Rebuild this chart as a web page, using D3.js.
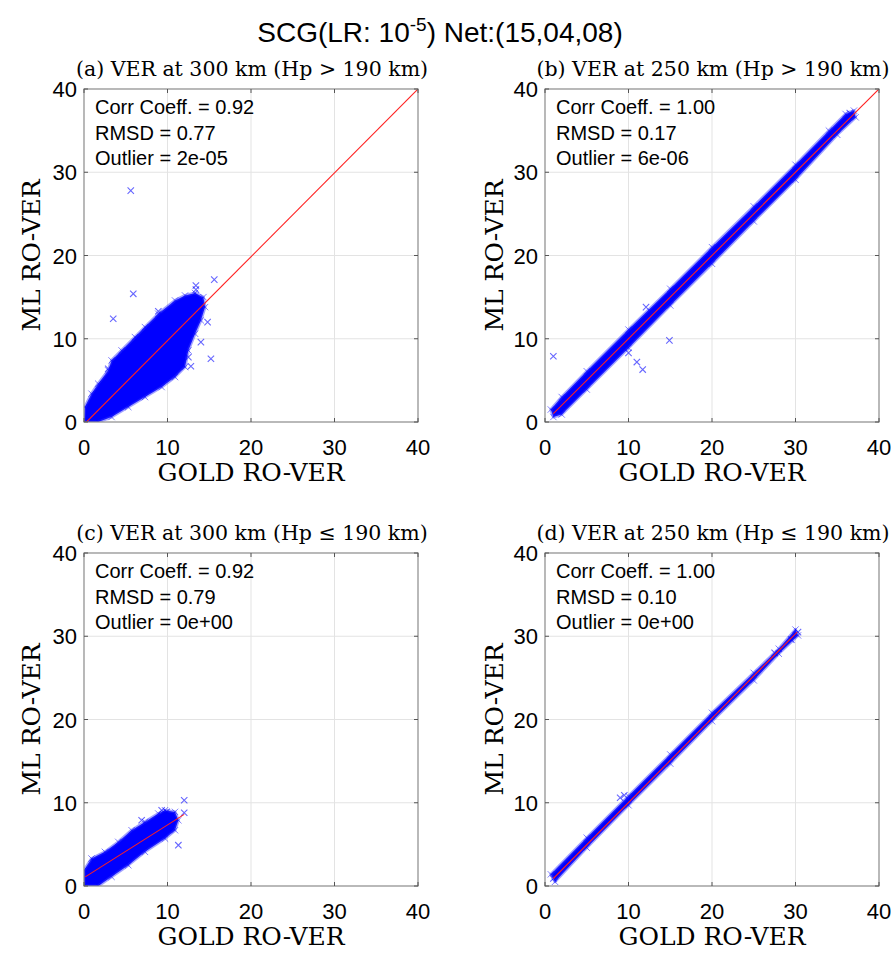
<!DOCTYPE html>
<html lang="en">
<head>
<meta charset="utf-8">
<title>SCG scatter</title>
<script src="https://d3js.org/d3.v7.min.js"></script>
<style>
  body { margin: 0; background: #fff; }
  svg text { fill: #000; }
</style>
</head>
<body>
<svg id="fig" width="895" height="953"></svg>
<script>
// ---- data ----
const ticks = [0, 10, 20, 30, 40];

const panelTitles = [
  "(a) VER at 300 km (Hp > 190 km)",
  "(b) VER at 250 km (Hp > 190 km)",
  "(c) VER at 300 km (Hp \u2264 190 km)",
  "(d) VER at 250 km (Hp \u2264 190 km)"
];

const corrCoeff = ["0.92", "1.00", "0.92", "1.00"];
const rmsd      = ["0.77", "0.17", "0.79", "0.10"];
const outlier   = ["2e-05", "6e-06", "0e+00", "0e+00"];

// outlines of the dense marker clouds (GOLD, ML)
const cloudA = [[0,0.2],[0.1,1.8],[0.9,3.4],[1.7,4.6],[2.9,6.2],[3.3,7.4],[4.5,8.6],[6.1,10.2],
  [7.3,11.4],[8.9,13.0],[10.9,14.6],[12.1,15.2],[13.3,15.5],[14.3,15.0],[14.5,13.8],[14.0,12.2],
  [13.3,10.6],[12.5,8.6],[12.1,6.6],[10.9,5.4],[9.3,4.2],[7.3,3.0],[5.3,1.8],[3.3,0.6],[1.7,0],[0.1,0]];
const cloudB = [[0.7,1.5],[2,3],[5,6.1],[10,11.1],[15,16.0],[20,21.0],[25,25.9],[30,30.9],[34,35],
  [36,37.0],[37,37.4],[37.2,36.6],[35,34.5],[30,29.1],[25,24.1],[20,19.0],[15,14.0],[10,8.9],
  [5,3.9],[2,0.9],[1,0.6]];
const cloudC = [[0,1.9],[0.9,3.3],[2.5,4.1],[4.1,5.3],[5.7,6.7],[7.3,7.7],[8.9,8.7],[9.7,9.1],
  [10.9,8.9],[11.3,7.9],[10.9,6.7],[9.7,5.7],[7.3,4.1],[5.3,2.5],[3.3,1.1],[1.7,0],[0,0]];
const cloudD = [[0.7,1.4],[5,5.8],[10,10.8],[15,15.8],[20,20.8],[25,25.6],[28,28.5],[30,30.8],
  [30.3,30.1],[28,27.9],[25,24.7],[20,19.8],[15,14.7],[10,9.7],[5,4.6],[1.2,0.5]];

// isolated markers
const outliersA = [[5.6,27.8],[5.9,15.4],[3.5,12.4],[8.9,13.3],[15.6,17.1],[13.4,16.4],[13.4,15.9],
  [15.2,7.6],[12.8,6.7],[14.0,9.6],[14.8,12.0],[12.5,7.8],[2.9,6.4]];
const outliersB = [[1.0,7.9],[10.0,8.3],[11.0,7.2],[11.7,6.3],[14.9,9.8],[12.1,13.8],[36.5,37.1]];
const outliersC = [[12.0,10.3],[12.0,8.8],[11.3,4.9],[9.9,8.9],[9.3,9.1],[6.9,7.9]];
const outliersD = [[30.3,30.5],[29.5,29.6],[27.5,28.0],[9.5,10.9],[9.0,10.6],[1.0,0.9]];

// red reference / fit lines
const fitA = [[0.3,0],[40,40]];
const fitB = [[1,1],[40,40]];
const fitC = [[0.15,1.1],[12,8.6]];
const fitD = [[1,0.9],[30.2,30.5]];

const clouds = [cloudA, cloudB, cloudC, cloudD];
const outliers = [outliersA, outliersB, outliersC, outliersD];
const fits = [fitA, fitB, fitC, fitD];

// ---- layout ----
const svg = d3.select("#fig");
const colX = [84, 545], rowY = [89, 553];
const pw = 334, ph = 333;

svg.append("text")
  .attr("x", 440).attr("y", 42)
  .attr("text-anchor", "middle")
  .style("font-family", "Liberation Sans, Arial, sans-serif")
  .style("font-size", "28px")
  .call(t => {
    t.append("tspan").text("SCG(LR: 10");
    t.append("tspan").attr("dy", -11).style("font-size", "19px").text("-5");
    t.append("tspan").attr("dy", 11).text(") Net:(15,04,08)");
  });

const xMark = "M-3.2,-3.2L3.2,3.2M-3.2,3.2L3.2,-3.2";

d3.range(4).forEach(i => {
  const ox = colX[i % 2], oy = rowY[Math.floor(i / 2)];
  const x = d3.scaleLinear().domain([0, 40]).range([0, pw]);
  const y = d3.scaleLinear().domain([0, 40]).range([ph, 0]);
  const g = svg.append("g").attr("transform", `translate(${ox},${oy})`);

  g.append("clipPath").attr("id", "clip" + i)
    .append("rect").attr("width", pw).attr("height", ph);

  // grid
  g.append("g").selectAll("line.gx").data(ticks.slice(1, -1)).join("line")
    .attr("x1", d => x(d)).attr("x2", d => x(d)).attr("y1", 0).attr("y2", ph)
    .attr("stroke", "#e3e3e3").attr("stroke-width", 1);
  g.append("g").selectAll("line.gy").data(ticks.slice(1, -1)).join("line")
    .attr("y1", d => y(d)).attr("y2", d => y(d)).attr("x1", 0).attr("x2", pw)
    .attr("stroke", "#e3e3e3").attr("stroke-width", 1);

  const plot = g.append("g").attr("clip-path", `url(#clip${i})`);

  // dense cloud
  plot.append("path")
    .datum(clouds[i])
    .attr("d", d3.line().x(d => x(d[0])).y(d => y(d[1])).curve(d3.curveLinearClosed))
    .attr("fill", "#0000ff")
    .attr("stroke", "#3333ff").attr("stroke-opacity", 0.45).attr("stroke-width", 3)
    .attr("stroke-linejoin", "round");

  plot.selectAll("path.edge").data(clouds[i]).join("path")
    .attr("class", "edge")
    .attr("transform", d => `translate(${x(d[0])},${y(d[1])})`)
    .attr("d", xMark)
    .attr("stroke", "#0000ff").attr("stroke-opacity", 0.5).attr("stroke-width", 1).attr("fill", "none");

  plot.selectAll("path.out").data(outliers[i]).join("path")
    .attr("class", "out")
    .attr("transform", d => `translate(${x(d[0])},${y(d[1])})`)
    .attr("d", xMark)
    .attr("stroke", "#0000ff").attr("stroke-opacity", 0.6).attr("stroke-width", 1.1).attr("fill", "none");

  plot.append("path")
    .datum(fits[i])
    .attr("d", d3.line().x(d => x(d[0])).y(d => y(d[1])))
    .attr("stroke", "#ff2020").attr("stroke-width", 1.1).attr("fill", "none");

  // frame + inward ticks on all sides
  g.append("rect").attr("width", pw).attr("height", ph)
    .attr("fill", "none").attr("stroke", "#8a8a8a").attr("stroke-width", 1.2);
  const tk = 4;
  ticks.forEach(t => {
    g.append("line").attr("x1", x(t)).attr("x2", x(t)).attr("y1", ph).attr("y2", ph - tk).attr("stroke", "#555");
    g.append("line").attr("x1", x(t)).attr("x2", x(t)).attr("y1", 0).attr("y2", tk).attr("stroke", "#555");
    g.append("line").attr("y1", y(t)).attr("y2", y(t)).attr("x1", 0).attr("x2", tk).attr("stroke", "#555");
    g.append("line").attr("y1", y(t)).attr("y2", y(t)).attr("x1", pw).attr("x2", pw - tk).attr("stroke", "#555");
  });

  // tick labels
  const tickFont = g => g.style("font-family", "Liberation Sans, Arial, sans-serif").style("font-size", "22px").attr("fill", "#262626");
  g.selectAll("text.xt").data(ticks).join("text").attr("class", "xt")
    .attr("x", d => x(d)).attr("y", ph + 33).attr("text-anchor", "middle").text(d => d).call(tickFont);
  g.selectAll("text.yt").data(ticks).join("text").attr("class", "yt")
    .attr("x", -7).attr("y", d => y(d) + 8).attr("text-anchor", "end").text(d => d).call(tickFont);

  // axis labels
  g.append("text").attr("x", pw / 2).attr("y", ph + 59).attr("text-anchor", "middle")
    .style("font-family", "DejaVu Serif, serif").style("font-size", "25px").text("GOLD RO-VER");
  g.append("text").attr("transform", `translate(${i % 2 ? -42 : -44},${ph / 2}) rotate(-90)`)
    .attr("text-anchor", "middle")
    .style("font-family", "DejaVu Serif, serif").style("font-size", "25px").text("ML RO-VER");

  // panel title
  g.append("text").attr("x", pw / 2 + 1).attr("y", -13).attr("text-anchor", "middle")
    .style("font-family", "DejaVu Serif, serif").style("font-size", "20.5px").text(panelTitles[i]);

  // stats
  const lines = [`Corr Coeff. = ${corrCoeff[i]}`, `RMSD = ${rmsd[i]}`, `Outlier = ${outlier[i]}`];
  g.selectAll("text.st").data(lines).join("text").attr("class", "st")
    .attr("x", 11).attr("y", (d, k) => 25 + k * 25.5)
    .style("font-family", "Liberation Sans, Arial, sans-serif").style("font-size", "20px")
    .text(d => d);
});
</script>
</body>
</html>
